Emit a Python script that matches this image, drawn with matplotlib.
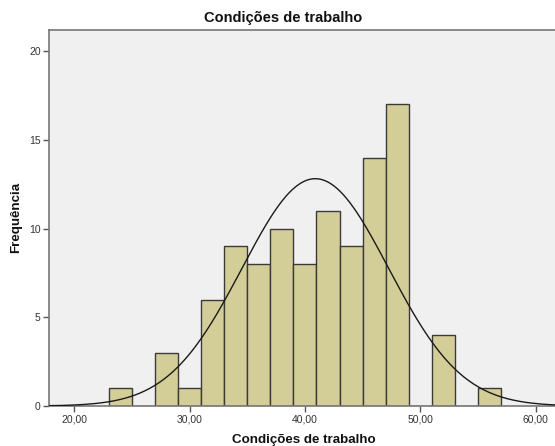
import matplotlib
matplotlib.use("Agg")
import matplotlib.pyplot as plt
import numpy as np

plt.rcParams['font.family'] = ['Liberation Sans', 'DejaVu Sans']

# histogram bins (width 2) and counts
bin_edges = [23, 25, 27, 29, 31, 33, 35, 37, 39, 41, 43, 45, 47, 49, 51, 53, 55, 57]
counts = [1, 0, 3, 1, 6, 9, 8, 10, 8, 11, 9, 14, 17, 0, 4, 0, 1]

# normal curve parameters (estimated from the curve)
curve_mean = 40.9
curve_sd = 6.35

x_ticks = [20, 30, 40, 50, 60]
x_tick_labels = ['20,00', '30,00', '40,00', '50,00', '60,00']
y_ticks = [0, 5, 10, 15, 20]

title = 'Condições de trabalho'
x_label = 'Condições de trabalho'
y_label = 'Frequência'

fig = plt.figure(figsize=(5.55, 4.46), dpi=100)
ax = fig.add_axes([49 / 555, 40 / 446, 1 - 49 / 555, 376 / 446])
ax.set_facecolor('#f0f0f0')

edges = np.array(bin_edges, dtype=float)
ax.bar(edges[:-1], counts, width=np.diff(edges), align='edge',
       color='#d3ce97', edgecolor='#3a3a3a', linewidth=1.0, zorder=2)

# normal curve scaled to counts
n_total = sum(counts)
bw = edges[1] - edges[0]
xs = np.linspace(15, 65, 600)
ys = n_total * bw / (curve_sd * np.sqrt(2 * np.pi)) * np.exp(-0.5 * ((xs - curve_mean) / curve_sd) ** 2)
ax.plot(xs, ys, color='#1a1a1a', linewidth=1.0, zorder=3)

ax.set_xlim(17.81, 61.68)
ax.set_ylim(0, 21.2)
ax.set_xticks(x_ticks)
ax.set_xticklabels(x_tick_labels)
ax.set_yticks(y_ticks)
ax.tick_params(axis='both', direction='out', length=4, width=1, color='#555555',
               labelsize=7.5, labelcolor='#333333', pad=2)

for side in ['left', 'bottom', 'top']:
    ax.spines[side].set_color('#777777')
    ax.spines[side].set_linewidth(1.2)
ax.spines['right'].set_visible(False)

fig.text(283.5 / 555, 1 - 18 / 446, title, ha='center', va='center',
         fontsize=10.5, fontweight='bold', color='#111111')
fig.text(304 / 555, 1 - 440 / 446, x_label, ha='center', va='center',
         fontsize=9.6, fontweight='bold', color='#111111')
fig.text(16 / 555, 1 - 217 / 446, y_label, ha='center', va='center', rotation=90,
         fontsize=9.6, fontweight='bold', color='#111111')

fig.savefig('out.png', dpi=100, facecolor='white')
